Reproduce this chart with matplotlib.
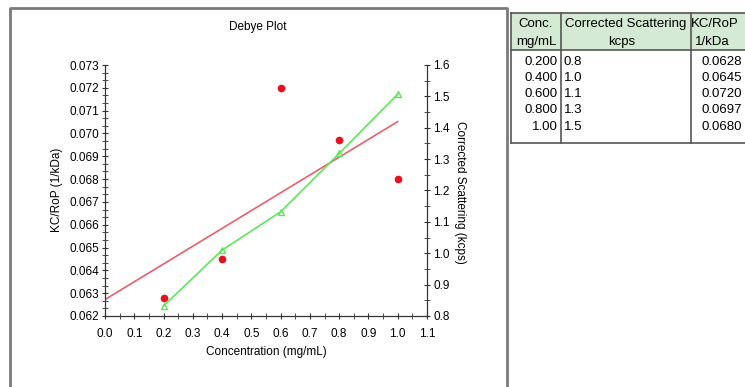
import matplotlib.pyplot as plt
from matplotlib.ticker import MultipleLocator, AutoMinorLocator
from matplotlib.patches import Rectangle

plt.rcParams['font.family'] = ['Liberation Sans', 'DejaVu Sans']

# Data
conc = [0.2, 0.4, 0.6, 0.8, 1.0]
kc_rop = [0.0628, 0.0645, 0.0720, 0.0697, 0.0680]
scatter_kcps = [0.832, 1.01, 1.132, 1.318, 1.507]
fit_x = [0.0, 1.0]
fit_y = [0.06272, 0.07052]

# Table text
tbl_conc = ['0.200', '0.400', '0.600', '0.800', '1.00']
tbl_scatter = ['0.8', '1.0', '1.1', '1.3', '1.5']
tbl_kc = ['0.0628', '0.0645', '0.0720', '0.0697', '0.0680']

W, H = 745, 387
fig = plt.figure(figsize=(W / 100, H / 100), dpi=100)

# background axes in pixel coords for panel frame and table
bg = fig.add_axes([0, 0, 1, 1], zorder=-1)
bg.set_xlim(0, W)
bg.set_ylim(H, 0)
bg.axis('off')

# chart panel frame
bg.plot([10, 10, 507, 507], [H + 5, 8, 8, H + 5], color='#7a7a7a', lw=2,
        clip_on=False)

# table
bg.add_patch(Rectangle((511, 13), 250, 37, facecolor='#d5ead3',
                       edgecolor='none'))
bg.plot([511, 760], [13, 13], color='#555555', lw=1.2)
bg.plot([511, 760], [50, 50], color='#555555', lw=1.2)
bg.plot([511, 760], [143, 143], color='#555555', lw=1.2)
for xv in [511, 561, 691]:
    bg.plot([xv, xv], [13, 143], color='#555555', lw=1.2)

tfs = 9.5
bg.text(536, 24, 'Conc.', ha='center', va='center', fontsize=tfs)
bg.text(536, 42, 'mg/mL', ha='center', va='center', fontsize=tfs)
bg.text(626, 24, 'Corrected Scattering', ha='center', va='center', fontsize=tfs)
bg.text(622, 42, 'kcps', ha='center', va='center', fontsize=tfs)
bg.text(691, 24, 'KC/RoP', ha='left', va='center', fontsize=tfs)
bg.text(712, 42, '1/kDa', ha='center', va='center', fontsize=tfs)

row_y = [62, 78, 94, 110, 127]
for i in range(len(tbl_conc)):
    bg.text(558, row_y[i], tbl_conc[i], ha='right', va='center', fontsize=tfs)
    bg.text(564, row_y[i], tbl_scatter[i], ha='left', va='center', fontsize=tfs)
    bg.text(702, row_y[i], tbl_kc[i], ha='left', va='center', fontsize=tfs)

# main chart
ax = fig.add_axes([105 / W, 1 - 316 / H, 322 / W, 251 / H])
ax.set_xlim(0, 1.1)
ax.set_ylim(0.062, 0.073)
ax.spines['top'].set_visible(False)
ax.xaxis.set_major_locator(MultipleLocator(0.1))
ax.xaxis.set_minor_locator(AutoMinorLocator(2))
ax.yaxis.set_major_locator(MultipleLocator(0.001))
ax.yaxis.set_minor_locator(AutoMinorLocator(3))
ax.yaxis.set_major_formatter(plt.FormatStrFormatter('%.3f'))
ax.xaxis.set_major_formatter(plt.FormatStrFormatter('%.1f'))
ax.tick_params(which='major', direction='inout', length=5, labelsize=8.5,
               color='#333333')
ax.tick_params(which='minor', direction='inout', length=4, color='#333333')
ax.tick_params(axis='x', pad=6)
ax.tick_params(axis='y', pad=2)
for s in ['left', 'bottom', 'right']:
    ax.spines[s].set_color('#333333')

ax.plot(fit_x, fit_y, color='#e8606a', lw=1.2, zorder=2)
ax.plot(conc, kc_rop, 'o', color='#e8101c', markersize=4.5, zorder=4)

ax2 = ax.twinx()
ax2.set_ylim(0.8, 1.6)
ax2.spines['top'].set_visible(False)
ax2.yaxis.set_major_locator(MultipleLocator(0.1))
ax2.yaxis.set_minor_locator(AutoMinorLocator(2))
ax2.yaxis.set_major_formatter(plt.FormatStrFormatter('%.1f'))
ax2.tick_params(which='major', direction='inout', length=5, labelsize=8.5,
                color='#333333', pad=2)
ax2.tick_params(which='minor', direction='inout', length=4, color='#333333')
for s in ['left', 'bottom', 'right']:
    ax2.spines[s].set_color('#333333')
ax2.plot(conc, scatter_kcps, '-^', color='#5ee65a', lw=1.2, markersize=5,
         markerfacecolor='none', markeredgewidth=1)

fig.text(258 / W, 1 - 27 / H, 'Debye Plot', ha='center', va='center',
         fontsize=8.5)
fig.text(266 / W, 1 - 352 / H, 'Concentration (mg/mL)', ha='center',
         va='center', fontsize=8.5)
fig.text(57 / W, 1 - 190 / H, 'KC/RoP (1/kDa)', ha='center', va='center',
         rotation=90, fontsize=8.5)
fig.text(460 / W, 1 - 192 / H, 'Corrected Scattering (kcps)', ha='center',
         va='center', rotation=270, fontsize=8.5)

fig.savefig('out.png', dpi=100)
